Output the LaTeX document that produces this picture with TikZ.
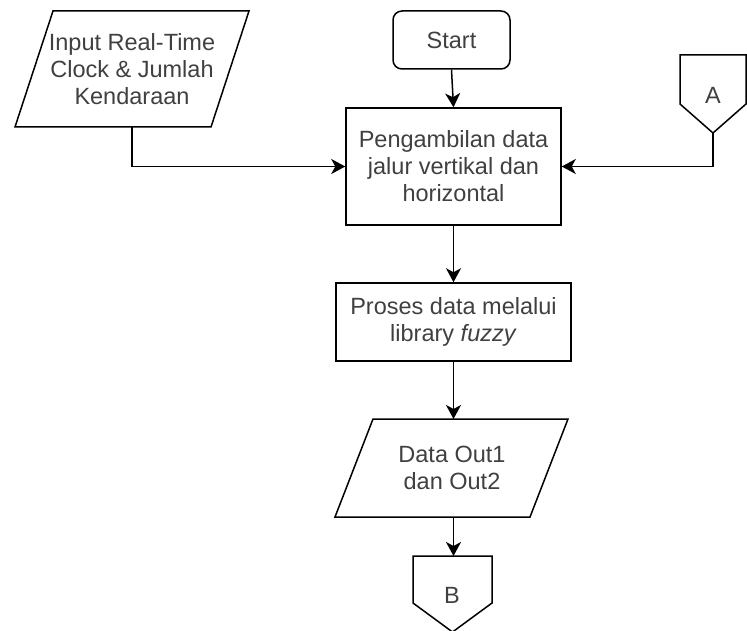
\documentclass[tikz,border=0pt]{standalone}
\usepackage{fontspec}
\setmainfont{Liberation Sans}
\usetikzlibrary{arrows.meta}
\definecolor{txt}{RGB}{64,64,64}
\begin{document}
\begin{tikzpicture}[x=1pt,y=-1pt,line width=1.5pt,
  lbl/.style={text=txt,font=\fontsize{23.5}{27}\selectfont,align=center,inner sep=0pt},
  procbox/.style={draw,rectangle,lbl,inner sep=0pt},
  conn/.style={-{Stealth[length=14pt,width=15pt,inset=4pt]}},
  shp/.style={draw,line join=miter}]
\useasboundingbox (0,0) rectangle (747,631);
% Input parallelogram
\draw[shp] (53,11)--(249,11)--(211,127)--(15,127)--cycle;
\node[lbl] (input) at (132,69) {Input Real-Time\\Clock \& Jumlah\\Kendaraan};
\coordinate (inputb) at (132,127);
% Start
\node[procbox,rounded corners=9pt,minimum width=117pt,minimum height=58pt] (start) at (451.5,40) {Start};
% Box 1
\node[procbox,minimum width=215pt,minimum height=117pt] (box1) at (453.5,166.5) {Pengambilan data\\jalur vertikal dan\\horizontal};
% Box 2
\node[procbox,minimum width=235pt,minimum height=78pt] (box2) at (453.5,322) {Proses data melalui\\library \textit{fuzzy}};
% Data parallelogram
\draw[shp] (373,419)--(568,419)--(530,517)--(335,517)--cycle;
\node[lbl] (data) at (452,468) {Data Out1\\ dan Out2};
\coordinate (datat) at (453.5,419);
\coordinate (datab) at (453.5,517);
% A connector
\draw[shp] (680,55)--(746,55)--(746,104)--(713,133)--(680,104)--cycle;
\node[lbl] (A) at (713,95) {A};
\coordinate (Ab) at (713,133);
% B connector
\draw[shp] (413,556)--(492,556)--(492,603)--(452.5,632)--(413,603)--cycle;
\node[lbl] (B) at (452,595) {B};
\coordinate (Bt) at (453.5,556);
% connectors
\draw[conn] (start.south) -- (box1.north);
\draw[conn] (inputb) |- (box1.west);
\draw[conn] (Ab) |- (box1.east);
\draw[conn] (box1.south) -- (box2.north);
\draw[conn] (box2.south) -- (datat);
\draw[conn] (datab) -- (Bt);
\end{tikzpicture}
\end{document}
